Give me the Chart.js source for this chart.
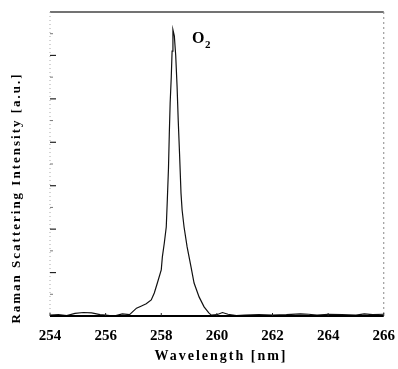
<!DOCTYPE html>
<html>
<head>
<meta charset="utf-8">
<script src="https://cdn.jsdelivr.net/npm/chart.js@4/dist/chart.umd.min.js"></script>
<style>
  html, body { margin: 0; padding: 0; background: #fff; }
  #wrap { width: 398px; height: 369px; }
</style>
</head>
<body>
<div id="wrap"><canvas id="raman-chart" width="398" height="369"></canvas></div>
<script>
const canvasElement = document.getElementById("raman-chart");

// wavelength [nm] and intensity [a.u.]
const wavelength = [
  254.0, 254.3, 254.6, 254.9, 255.2, 255.5, 255.8, 256.0, 256.3, 256.6, 256.86,
  257.11, 257.29, 257.46, 257.64, 257.75, 257.86, 258.0, 258.04, 258.11, 258.18,
  258.22, 258.26, 258.29, 258.32, 258.36, 258.39, 258.42, 258.47, 258.52, 258.57,
  258.61, 258.66, 258.71, 258.75, 258.82, 258.93, 259.07, 259.18, 259.36, 259.54,
  259.71, 259.8, 260.0, 260.2, 260.4, 260.7, 261.0, 261.5, 262.0, 262.5, 263.0,
  263.3, 263.6, 264.0, 264.5, 265.0, 265.3, 265.6, 266.0,
];
const intensity = [
  0.02, 0.03, 0.01, 0.06, 0.08, 0.07, 0.03, 0.02, 0.0, 0.05, 0.03,
  0.18, 0.23, 0.28, 0.37, 0.53, 0.76, 1.06, 1.36, 1.68, 2.05,
  2.7, 3.4, 4.2, 4.9, 5.5, 6.1, 6.59, 6.45, 6.0, 5.27,
  4.51, 3.7, 2.83, 2.44, 2.05, 1.59, 1.13, 0.76, 0.44, 0.21,
  0.07, 0.02, 0.03, 0.08, 0.04, 0.01, 0.02, 0.03, 0.02, 0.03, 0.05,
  0.04, 0.02, 0.04, 0.03, 0.02, 0.05, 0.03, 0.04,
];
const xTicks = [254, 256, 258, 260, 262, 264, 266];
const yTicks = [1, 2, 3, 4, 5, 6];

const serif = '"Liberation Serif", "Times New Roman", serif';

const framePlugin = {
  id: "frame",
  afterDraw(chart) {
    const { ctx, chartArea: a, scales } = chart;
    ctx.save();
    // top border
    ctx.strokeStyle = "#444";
    ctx.lineWidth = 1.5;
    ctx.beginPath();
    ctx.moveTo(a.left, a.top);
    ctx.lineTo(a.right, a.top);
    ctx.stroke();
    // right border, broken
    ctx.strokeStyle = "#888";
    ctx.lineWidth = 1;
    ctx.setLineDash([2, 3]);
    ctx.beginPath();
    ctx.moveTo(a.right, a.top);
    ctx.lineTo(a.right, a.bottom);
    ctx.stroke();
    // left border, faint
    ctx.strokeStyle = "#aaa";
    ctx.setLineDash([1, 3]);
    ctx.beginPath();
    ctx.moveTo(a.left, a.top);
    ctx.lineTo(a.left, a.bottom);
    ctx.stroke();
    ctx.setLineDash([]);
    // bottom axis
    ctx.strokeStyle = "#000";
    ctx.lineWidth = 2;
    ctx.beginPath();
    ctx.moveTo(a.left, a.bottom);
    ctx.lineTo(a.right, a.bottom);
    ctx.stroke();
    // y ticks, inward
    ctx.lineWidth = 1.2;
    yTicks.forEach((v) => {
      const y = scales.y.getPixelForValue(v);
      ctx.strokeStyle = "#222";
      ctx.beginPath();
      ctx.moveTo(a.left, y);
      ctx.lineTo(a.left + 6, y);
      ctx.stroke();
    });
    ctx.strokeStyle = "#777";
    ctx.lineWidth = 1;
    for (let v = 0.5; v < 7; v += 1) {
      const y = scales.y.getPixelForValue(v);
      ctx.beginPath();
      ctx.moveTo(a.left, y);
      ctx.lineTo(a.left + 3, y);
      ctx.stroke();
    }
    // x ticks, inward
    ctx.strokeStyle = "#222";
    xTicks.forEach((v) => {
      const x = scales.x.getPixelForValue(v);
      ctx.beginPath();
      ctx.moveTo(x, a.bottom);
      ctx.lineTo(x, a.bottom - 3);
      ctx.stroke();
    });
    // axis titles
    ctx.fillStyle = "#000";
    ctx.textAlign = "center";
    ctx.textBaseline = "middle";
    ctx.font = "bold 14px " + serif;
    ctx.letterSpacing = "2px";
    ctx.fillText("Wavelength [nm]", 221, 356);
    ctx.save();
    ctx.translate(17, 198);
    ctx.rotate(-Math.PI / 2);
    ctx.font = "bold 13px " + serif;
    ctx.letterSpacing = "2px";
    ctx.fillText("Raman Scattering Intensity [a.u.]", 0, 0);
    ctx.restore();
    // peak label
    ctx.letterSpacing = "0px";
    ctx.textAlign = "left";
    ctx.font = "bold 16px " + serif;
    ctx.fillText("O", 192, 39);
    ctx.font = "bold 11px " + serif;
    ctx.fillText("2", 205, 45);
    ctx.restore();
  },
};

const config = {
  type: "scatter",
  data: {
    datasets: [
      {
        label: "O2",
        data: wavelength.map((w, i) => ({ x: w, y: intensity[i] })),
        showLine: true,
        borderColor: "#111",
        borderWidth: 1.2,
        pointRadius: 0,
        tension: 0,
      },
    ],
  },
  options: {
    responsive: false,
    animation: false,
    layout: {
      padding: { top: 12, right: 12, left: 0, bottom: 0 },
    },
    plugins: {
      legend: { display: false },
      tooltip: { enabled: false },
    },
    scales: {
      x: {
        type: "linear",
        min: 254,
        max: 266,
        afterFit: (s) => { s.height = 53; },
        afterBuildTicks: (s) => { s.ticks = xTicks.map((v) => ({ value: v })); },
        border: { display: false },
        grid: { display: false },
        ticks: {
          padding: 3,
          color: "#000",
          font: { family: serif, size: 15, weight: "bold" },
        },
      },
      y: {
        min: 0,
        max: 7,
        afterFit: (s) => { s.width = 50; },
        border: { display: false },
        grid: { display: false },
        ticks: { display: false },
      },
    },
  },
  plugins: [framePlugin],
};

const ramanChart = new Chart(canvasElement, config);
</script>
</body>
</html>
